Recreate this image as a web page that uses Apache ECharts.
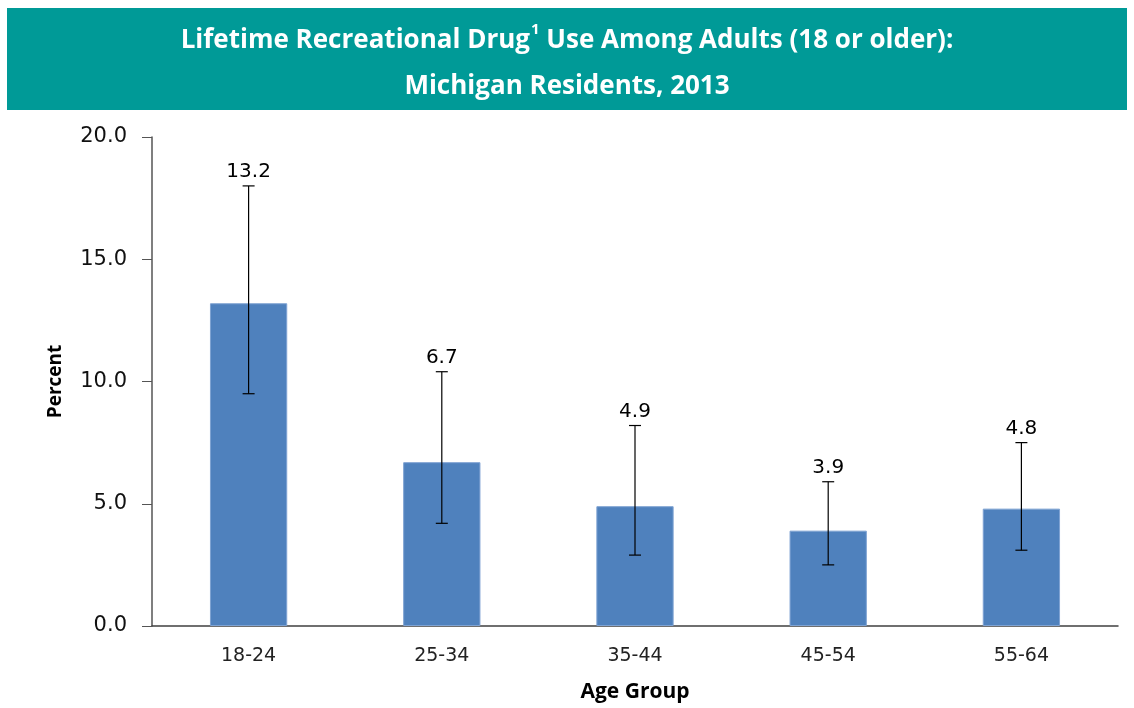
<!DOCTYPE html>
<html>
<head>
<meta charset="utf-8">
<script src="https://cdn.jsdelivr.net/npm/echarts@6/dist/echarts.min.js"></script>
<style>html,body{margin:0;padding:0;background:#fff;}#c{width:1134px;height:708px;}</style>
</head>
<body>
<div id="c"></div>
<script>
var categories = ['18-24', '25-34', '35-44', '45-54', '55-64'];
var percent = [13.2, 6.7, 4.9, 3.9, 4.8];
var lowerCI = [9.5, 4.2, 2.9, 2.5, 3.1];
var upperCI = [18.0, 10.4, 8.2, 5.9, 7.5];
var yTicks = [0, 5, 10, 15, 20];

var chart = echarts.init(document.getElementById('c'));
var errData = categories.map(function (c, i) { return [i, lowerCI[i], upperCI[i], percent[i]]; });

chart.setOption({
  animation: false,
  graphic: [{
    type: 'rect', left: 7, top: 8, z: 0,
    shape: { width: 1120, height: 102 },
    style: { fill: '#009A97' }
  }],
  title: {
    text: '{t|Lifetime Recreational Drug}{s|1}{t| Use Among Adults (18 or older):}\n{t|Michigan Residents, 2013}',
    left: 'center', top: 13, z: 10,
    textStyle: {
      rich: {
        t: { fontFamily: 'Open Sans', fontWeight: 'bold', fontSize: 26, color: '#fff', lineHeight: 46 },
        s: { fontFamily: 'Open Sans', fontWeight: 'bold', fontSize: 15, color: '#fff', lineHeight: 46, verticalAlign: 'top', padding: [4, 0, 0, 1] }
      }
    }
  },
  grid: { left: 152, right: 16, top: 137, bottom: 77 },
  xAxis: {
    type: 'category', data: categories,
    name: 'Age Group', nameLocation: 'middle', nameGap: 56,
    nameTextStyle: { fontFamily: 'Open Sans', fontWeight: 'bold', fontSize: 21, color: '#000' },
    axisLine: { lineStyle: { color: '#404040', width: 1.5 } },
    axisTick: { show: false },
    axisLabel: { fontFamily: 'DejaVu Sans', fontSize: 19, color: '#222', margin: 21 }
  },
  yAxis: {
    type: 'value', min: 0, max: 20, interval: 5,
    name: 'Percent', nameLocation: 'middle', nameGap: 87,
    nameTextStyle: { fontFamily: 'Open Sans', fontWeight: 'bold', fontSize: 19, color: '#000' },
    axisLine: { show: true, lineStyle: { color: '#555', width: 1.5 } },
    axisTick: { show: true, length: 10, lineStyle: { color: '#555' } },
    splitLine: { show: false },
    axisLabel: {
      fontFamily: 'DejaVu Sans', fontSize: 21, color: '#111', margin: 25,
      formatter: function (v) { return yTicks.indexOf(v) >= 0 ? v.toFixed(1) : ''; }
    }
  },
  series: [{
    type: 'bar', data: percent, barWidth: '40%',
    itemStyle: { color: '#4F81BD', borderColor: '#7FA3D3', borderWidth: 1 }
  }, {
    type: 'custom', data: errData, z: 5,
    renderItem: function (params, api) {
      var x = api.value(0);
      var lo = api.coord([x, api.value(1)]);
      var hi = api.coord([x, api.value(2)]);
      var hw = 6;
      var st = { stroke: '#000', lineWidth: 1.2 };
      return {
        type: 'group',
        children: [
          { type: 'line', shape: { x1: hi[0], y1: hi[1], x2: lo[0], y2: lo[1] }, style: st },
          { type: 'line', shape: { x1: hi[0] - hw, y1: hi[1], x2: hi[0] + hw, y2: hi[1] }, style: st },
          { type: 'line', shape: { x1: lo[0] - hw, y1: lo[1], x2: lo[0] + hw, y2: lo[1] }, style: st },
          { type: 'text', style: { text: api.value(3).toFixed(1), x: hi[0], y: hi[1] - 4, textAlign: 'center', textVerticalAlign: 'bottom', fill: '#000', font: '20px "DejaVu Sans"' } }
        ]
      };
    }
  }]
});
</script>
</body>
</html>
